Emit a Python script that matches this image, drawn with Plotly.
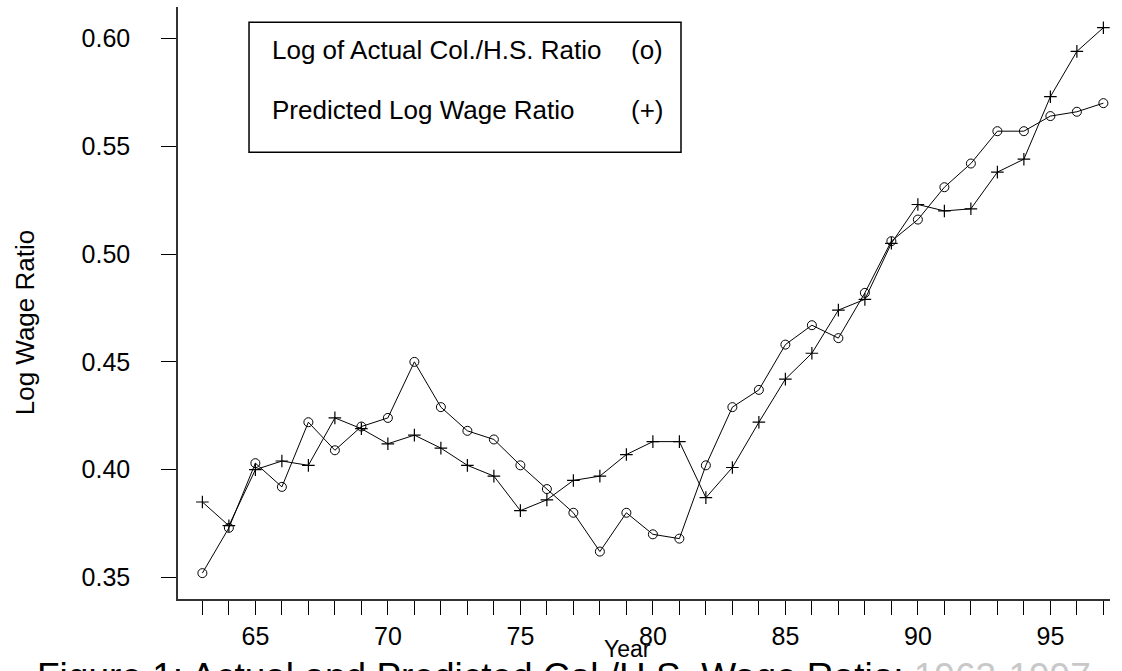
import plotly.graph_objects as go

# Years (two-digit) 1963-1997
years = list(range(63, 98))

# Log of actual college / high-school wage ratio
actual = [0.352, 0.373, 0.403, 0.392, 0.422, 0.409, 0.420, 0.424, 0.450, 0.429,
          0.418, 0.414, 0.402, 0.391, 0.380, 0.362, 0.380, 0.370, 0.368, 0.402,
          0.429, 0.437, 0.458, 0.467, 0.461, 0.482, 0.506, 0.516, 0.531, 0.542,
          0.557, 0.557, 0.564, 0.566, 0.570]

# Predicted log wage ratio
predicted = [0.385, 0.374, 0.400, 0.404, 0.402, 0.424, 0.419, 0.412, 0.416, 0.410,
             0.402, 0.397, 0.381, 0.386, 0.395, 0.397, 0.407, 0.413, 0.413, 0.387,
             0.401, 0.422, 0.442, 0.454, 0.474, 0.479, 0.505, 0.523, 0.520, 0.521,
             0.538, 0.544, 0.573, 0.594, 0.605]

y_ticks = [0.35, 0.40, 0.45, 0.50, 0.55, 0.60]
y_tick_text = ["0.35", "0.40", "0.45", "0.50", "0.55", "0.60"]
x_tick_text = [str(y) if y % 5 == 0 else "" for y in years]

FONT = "Liberation Sans, Arial, sans-serif"

fig = go.Figure()
fig.add_trace(go.Scatter(
    x=years, y=actual, mode="lines+markers",
    line=dict(color="black", width=1),
    marker=dict(symbol="circle-open", size=9, color="black", line=dict(width=1)),
    showlegend=False,
))
fig.add_trace(go.Scatter(
    x=years, y=predicted, mode="lines+markers",
    line=dict(color="black", width=1),
    marker=dict(symbol="cross-thin-open", size=9, color="black", line=dict(width=1.2, color="black")),
    showlegend=False,
))

# Key box
fig.add_shape(type="rect", xref="paper", yref="paper",
              x0=0.0762, x1=0.5397, y0=0.7546, y1=0.9742,
              line=dict(color="black", width=1.5), fillcolor="rgba(0,0,0,0)")

key_font = dict(family=FONT, size=26, color="black")
for txt, sym, yy in [("Log of Actual Col./H.S. Ratio", "(o)", 0.9274),
                     ("Predicted Log Wage Ratio", "(+)", 0.8260)]:
    fig.add_annotation(x=0.0987, y=yy, xref="paper", yref="paper", text=txt,
                       showarrow=False, xanchor="left", yanchor="middle", font=key_font)
    fig.add_annotation(x=0.4835, y=yy, xref="paper", yref="paper", text=sym,
                       showarrow=False, xanchor="left", yanchor="middle", font=key_font)

# Axis titles
fig.add_annotation(x=-0.164, y=0.466, xref="paper", yref="paper", text="Log Wage Ratio",
                   textangle=-90, showarrow=False, xanchor="center", yanchor="middle",
                   font=dict(family=FONT, size=26, color="black"))
fig.add_annotation(x=0.482, y=-0.0845, xref="paper", yref="paper", text="Year",
                   showarrow=False, xanchor="center", yanchor="middle",
                   font=dict(family=FONT, size=23, color="black"))

# Figure caption
fig.add_annotation(x=-0.153, y=-0.093, xref="paper", yref="paper",
                   text="Figure 1: Actual and Predicted Col./H.S. Wage Ratio: "
                        "<span style='color:#c8c8c8'>1963-1997</span>",
                   showarrow=False, xanchor="left", yanchor="top",
                   font=dict(family=FONT, size=37, color="black"))

fig.update_xaxes(
    range=[62.08, 97.25], tickmode="array", tickvals=years, ticktext=x_tick_text,
    ticks="outside", ticklen=14, tickwidth=1, tickcolor="black",
    showline=True, linecolor="#333333", linewidth=1.5, showgrid=False, zeroline=False,
    tickfont=dict(family=FONT, size=25, color="black"),
)
fig.update_yaxes(
    range=[0.3400, 0.6146], tickmode="array", tickvals=y_ticks, ticktext=y_tick_text,
    ticks="outside", ticklen=15, tickwidth=1, tickcolor="black",
    showline=True, linecolor="#333333", linewidth=1.5, showgrid=False, zeroline=False,
    tickfont=dict(family=FONT, size=25, color="black"), ticklabelstandoff=26,
)
fig.update_layout(
    width=1122, height=671,
    margin=dict(l=178, r=12, t=7, b=72),
    paper_bgcolor="white", plot_bgcolor="white",
)

fig.write_html("out.html")
